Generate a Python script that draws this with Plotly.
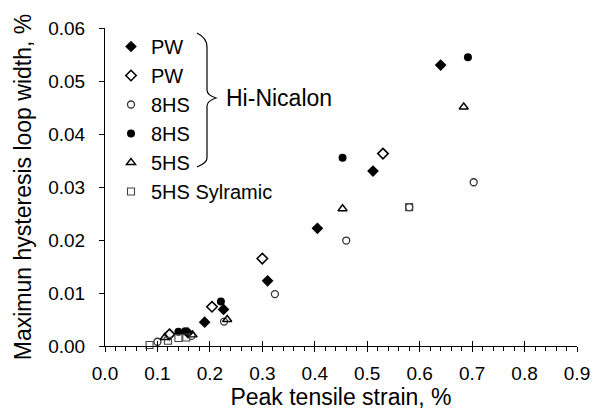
import plotly.graph_objects as go

# ---- data ----
pw_f_x = [0.158, 0.190, 0.226, 0.310, 0.405, 0.511, 0.640]
pw_f_y = [0.0025, 0.0045, 0.0069, 0.0123, 0.0222, 0.0330, 0.0530]
pw_o_x = [0.123, 0.204, 0.300, 0.530]
pw_o_y = [0.0022, 0.0074, 0.0165, 0.0363]
hs8_o_x = [0.100, 0.165, 0.227, 0.324, 0.460, 0.580, 0.703]
hs8_o_y = [0.0008, 0.0019, 0.0046, 0.0098, 0.0199, 0.0262, 0.0309]
hs8_f_x = [0.140, 0.153, 0.221, 0.453, 0.692]
hs8_f_y = [0.0027, 0.0028, 0.0084, 0.0355, 0.0545]
hs5_x = [0.114, 0.167, 0.233, 0.453, 0.684]
hs5_y = [0.0016, 0.0021, 0.0050, 0.0259, 0.0451]
syl_x = [0.085, 0.120, 0.140, 0.155, 0.580]
syl_y = [0.0002, 0.0010, 0.0015, 0.0016, 0.0262]

x_ticks = [0.0, 0.1, 0.2, 0.3, 0.4, 0.5, 0.6, 0.7, 0.8, 0.9]
y_ticks = [0.00, 0.01, 0.02, 0.03, 0.04, 0.05, 0.06]

W, H = 603, 413
ML, MR, MT, MB = 105, 26, 28, 67
PW_, PH_ = W - ML - MR, H - MT - MB
FONT = "Liberation Sans, Arial, sans-serif"
FS_TICK = 19
FS_TITLE = 23
FS_LEG = 20
FS_ANN = 23


def px(xp):
    return (xp - ML) / PW_


def py(yp):
    return (H - MB - yp) / PH_


fig = go.Figure()


def add(name, x, y, symbol, size, color="black", lw=1.4):
    fig.add_trace(go.Scatter(
        x=x, y=y, mode="markers", name=name, cliponaxis=False,
        marker=dict(symbol=symbol, size=size, color=color,
                    line=dict(color=color, width=lw))))


add("PW", pw_f_x, pw_f_y, "diamond", 9, lw=0)
add("PW", pw_o_x, pw_o_y, "diamond-open", 8, lw=1.6)
add("8HS", hs8_o_x, hs8_o_y, "circle-open", 7, color="#333333", lw=1.3)
add("8HS", hs8_f_x, hs8_f_y, "circle", 8, lw=0)
add("5HS", hs5_x, hs5_y, "triangle-up-open", 8, lw=1.4)
add("5HS Sylramic", syl_x, syl_y, "square-open", 7, color="#444444", lw=1.1)

# brace (decoration)
pts = [(197, 33), (207, 38), (207, 47), (207, 90), (207, 95), (216, 98),
       (207, 101), (207, 106), (207, 158), (207, 163), (197, 167)]
P = [(px(a), py(b)) for a, b in pts]
path = (f"M {P[0][0]},{P[0][1]} Q {P[1][0]},{P[1][1]} {P[2][0]},{P[2][1]} "
        f"L {P[3][0]},{P[3][1]} Q {P[4][0]},{P[4][1]} {P[5][0]},{P[5][1]} "
        f"Q {P[6][0]},{P[6][1]} {P[7][0]},{P[7][1]} "
        f"L {P[8][0]},{P[8][1]} Q {P[9][0]},{P[9][1]} {P[10][0]},{P[10][1]}")
fig.add_shape(type="path", path=path, xref="paper", yref="paper",
              line=dict(color="black", width=1.2))

fig.add_annotation(text="Hi-Nicalon", x=px(224), y=py(98), xref="paper", yref="paper",
                   xanchor="left", yanchor="middle", showarrow=False,
                   font=dict(family=FONT, size=FS_ANN, color="black"))

fig.update_layout(
    width=W, height=H,
    margin=dict(l=ML, r=MR, t=MT, b=MB, pad=0),
    paper_bgcolor="white", plot_bgcolor="white",
    font=dict(family=FONT, size=FS_TICK, color="black"),
    showlegend=True,
    legend=dict(x=px(111), y=py(27), xanchor="left", yanchor="top",
                bgcolor="rgba(0,0,0,0)", borderwidth=0,
                font=dict(family=FONT, size=FS_LEG, color="black"),
                itemwidth=30),
    xaxis=dict(range=[0, 0.9], tickvals=x_ticks, ticktext=[f"{v:.1f}" for v in x_ticks],
               showgrid=False, zeroline=False, showline=True, linecolor="black", linewidth=1,
               ticks="outside", ticklen=5, tickwidth=1, tickcolor="black",
               ticklabelstandoff=5,
               minor=dict(dtick=0.02, ticks="outside", ticklen=4, tickwidth=1, tickcolor="black"),
               title=dict(text="Peak tensile strain, %", standoff=2,
                          font=dict(family=FONT, size=FS_TITLE))),
    xaxis2=dict(range=[0, 0.9], overlaying="x", tickvals=x_ticks, showticklabels=False,
                showgrid=False, zeroline=False, showline=False,
                ticks="inside", ticklen=5, tickwidth=1, tickcolor="black", side="bottom",
                anchor="y"),
    yaxis=dict(range=[0, 0.06], tickvals=y_ticks, ticktext=[f"{v:.2f}" for v in y_ticks],
               showgrid=False, zeroline=False, showline=True, linecolor="black", linewidth=1,
               ticks="outside", ticklen=5, tickwidth=1, tickcolor="black",
               ticklabelstandoff=10,
               title=dict(text="Maximun hysteresis loop width, %", standoff=10,
                          font=dict(family=FONT, size=FS_TITLE))),
)
# invisible trace to activate overlay axis for crossing major ticks
fig.add_trace(go.Scatter(x=[None], y=[None], xaxis="x2", showlegend=False, hoverinfo="skip"))

fig.write_html("out.html")
